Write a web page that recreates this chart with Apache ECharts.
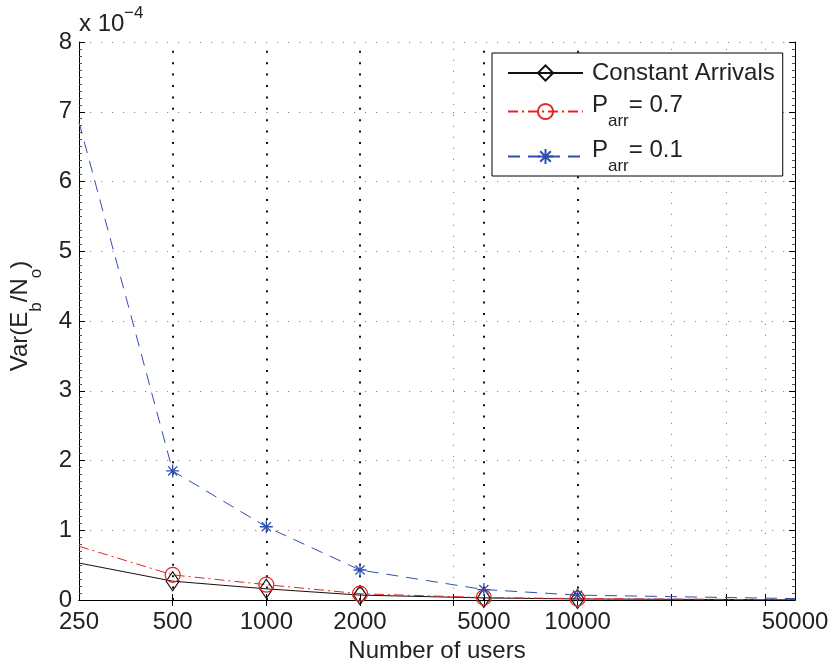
<!DOCTYPE html>
<html><head><meta charset="utf-8">
<script src="https://cdn.jsdelivr.net/npm/echarts@6/dist/echarts.min.js"></script>
<style>html,body{margin:0;padding:0;background:#fff}#c{width:833px;height:669px}</style>
</head><body><div id="c"></div>
<script>
// ---- data ----
const users = [250, 500, 1000, 2000, 5000, 10000, 50000];
const constantArrivals = [0.53e-4, 0.27e-4, 0.16e-4, 0.07e-4, 0.03e-4, 0.015e-4, 0.003e-4];
const pArr07 = [0.77e-4, 0.36e-4, 0.22e-4, 0.09e-4, 0.035e-4, 0.02e-4, 0.004e-4];
const pArr01 = [6.85e-4, 1.85e-4, 1.05e-4, 0.43e-4, 0.15e-4, 0.07e-4, 0.02e-4];
const markerShown = [false, true, true, true, true, true, false];
const xTickLabels = [250, 500, 1000, 2000, 5000, 10000, 50000];
const xTickMarks = [500, 1000, 2000, 4000, 5000, 10000, 20000, 30000, 40000];
const majorGridX = [500, 1000, 2000, 5000, 10000];
const minorGridX = [4000, 20000, 30000, 40000];
const seriesNames = ['Constant Arrivals', 'P_arr = 0.7', 'P_arr = 0.1'];

const FONT = "'Liberation Sans', Arial, Helvetica, sans-serif";
const TXT = '#222';

function build(vals) {
  return users.map((u, i) => {
    const d = { value: [u, vals[i]] };
    if (!markerShown[i]) d.symbol = 'none';
    return d;
  });
}

const legendText = {
  'Constant Arrivals': '{q|Constant Arrivals}',
  'P_arr = 0.7': '{p|P}{s|arr}{e|= 0.7}',
  'P_arr = 0.1': '{p|P}{s|arr}{e|= 0.1}'
};

const chart = echarts.init(document.getElementById('c'), null, { renderer: 'canvas' });
const option = {
  animation: false,
  backgroundColor: '#fff',
  grid: { left: 79, right: 38, top: 42, bottom: 69, containLabel: false },
  xAxis: [{
    type: 'log', logBase: 10, min: 250, max: 50000, position: 'bottom',
    axisLine: { show: true, lineStyle: { color: '#000', width: 1 } },
    axisTick: { show: true, inside: true, length: 6, customValues: xTickMarks, lineStyle: { color: '#000' } },
    axisLabel: { customValues: xTickLabels, margin: 10, fontSize: 24, color: TXT, fontFamily: FONT, showMinLabel: true, showMaxLabel: true,
      formatter: v => String(Math.round(v)) },
    splitLine: { show: false }, minorTick: { show: false }, minorSplitLine: { show: false },
    name: 'Number of users', nameLocation: 'middle', nameGap: 38,
    nameTextStyle: { fontSize: 24, color: TXT, fontFamily: FONT }
  }, {
    type: 'log', logBase: 10, min: 250, max: 50000, position: 'top',
    axisLine: { show: true, lineStyle: { color: '#000', width: 1 } },
    axisTick: { show: true, inside: true, length: 6, customValues: xTickMarks, lineStyle: { color: '#000' } },
    axisLabel: { show: false }, splitLine: { show: false }
  }],
  yAxis: [{
    type: 'value', min: 0, max: 8e-4, interval: 1e-4, position: 'left',
    axisLine: { show: true, lineStyle: { color: '#000', width: 1 } },
    axisTick: { show: true, inside: true, length: 6, lineStyle: { color: '#000' } },
    minorTick: { show: true, splitNumber: 10, length: 3, lineStyle: { color: '#555' } },
    axisLabel: { margin: 7, fontSize: 24, color: TXT, fontFamily: FONT, formatter: v => String(Math.round(v * 1e4)) },
    splitLine: { show: true, lineStyle: { color: '#8a8a8a', width: 1, type: [1.2, 9.8] } }
  }, {
    type: 'value', min: 0, max: 8e-4, interval: 1e-4, position: 'right',
    axisLine: { show: true, lineStyle: { color: '#000', width: 1 } },
    axisTick: { show: true, inside: true, length: 6, lineStyle: { color: '#000' } },
    minorTick: { show: true, splitNumber: 10, length: 3, lineStyle: { color: '#555' } },
    axisLabel: { show: false }, splitLine: { show: false }
  }],
  legend: {
    orient: 'vertical', left: 492, top: 53,
    padding: [8, 8, 1, 15], itemGap: 8, itemWidth: 75, itemHeight: 19,
    backgroundColor: '#fff', borderColor: '#000', borderWidth: 1, borderRadius: 0,
    data: seriesNames,
    formatter: name => legendText[name],
    textStyle: {
      fontSize: 24, color: TXT, fontFamily: FONT,
      rich: {
        q: { fontSize: 24, lineHeight: 24, fontFamily: FONT, color: TXT, padding: [0, 0, 0, 4] },
        p: { fontSize: 24, lineHeight: 24, fontFamily: FONT, color: TXT, padding: [0, 0, 12, 4] },
        s: { fontSize: 17, lineHeight: 17, fontFamily: FONT, color: TXT, padding: [20, 0, 0, 0] },
        e: { fontSize: 24, lineHeight: 24, fontFamily: FONT, color: TXT, padding: [0, 0, 12, 0] }
      }
    }
  },
  series: [{
    name: seriesNames[0], type: 'line', data: build(constantArrivals),
    symbol: 'diamond', symbolSize: [13, 19],
    lineStyle: { color: '#111', width: 1, type: 'solid' },
    itemStyle: { color: 'rgba(0,0,0,0)', borderColor: '#111', borderWidth: 1.2 },
    markLine: {
      silent: true, symbol: ['none', 'none'], label: { show: false }, z: 1,
      data: majorGridX.map(v => ({ xAxis: v, lineStyle: { color: '#111', width: 2, type: [2, 9.4] } }))
        .concat(minorGridX.map(v => ({ xAxis: v, lineStyle: { color: '#8a8a8a', width: 1, type: [1.2, 9.8] } })))
    }
  }, {
    name: seriesNames[1], type: 'line', data: build(pArr07),
    symbol: 'circle', symbolSize: 15,
    lineStyle: { color: '#e52421', width: 1, type: [10, 4, 2, 4] },
    itemStyle: { color: 'rgba(0,0,0,0)', borderColor: '#e52421', borderWidth: 1.2 }
  }, {
    name: seriesNames[2], type: 'line', data: build(pArr01),
    symbol: 'path://M0,-6L0,6M-6,0L6,0M-4.2,-4.2L4.2,4.2M-4.2,4.2L4.2,-4.2', symbolSize: 13,
    lineStyle: { color: '#2f4fb0', width: 1, type: [12, 8] },
    itemStyle: { color: 'rgba(0,0,0,0)', borderColor: '#2f4fb0', borderWidth: 1.3 }
  }],
  graphic: [{
    type: 'text', x: 79, y: 24,
    style: { text: 'x 10', fontSize: 24, fontFamily: FONT, fill: TXT, align: 'left', verticalAlign: 'middle' }
  }, {
    type: 'text', x: 124, y: 13,
    style: { text: '\u22124', fontSize: 17, fontFamily: FONT, fill: TXT, align: 'left', verticalAlign: 'middle' }
  }, {
    type: 'text', x: 26, y: 316, rotation: Math.PI / 2,
    style: {
      text: '{n|Var(E}{s|b}{n|/N}{s|o}{n|)}', align: 'center', verticalAlign: 'middle',
      fontSize: 24, fontFamily: FONT, fill: TXT,
      rich: {
        n: { fontSize: 24, lineHeight: 24, fontFamily: FONT, fill: TXT, padding: [0, 0, 12, 0] },
        s: { fontSize: 17, lineHeight: 17, fontFamily: FONT, fill: TXT, padding: [20, 0, 0, 0] }
      }
    }
  }]
};
chart.setOption(option);
</script>
</body></html>
